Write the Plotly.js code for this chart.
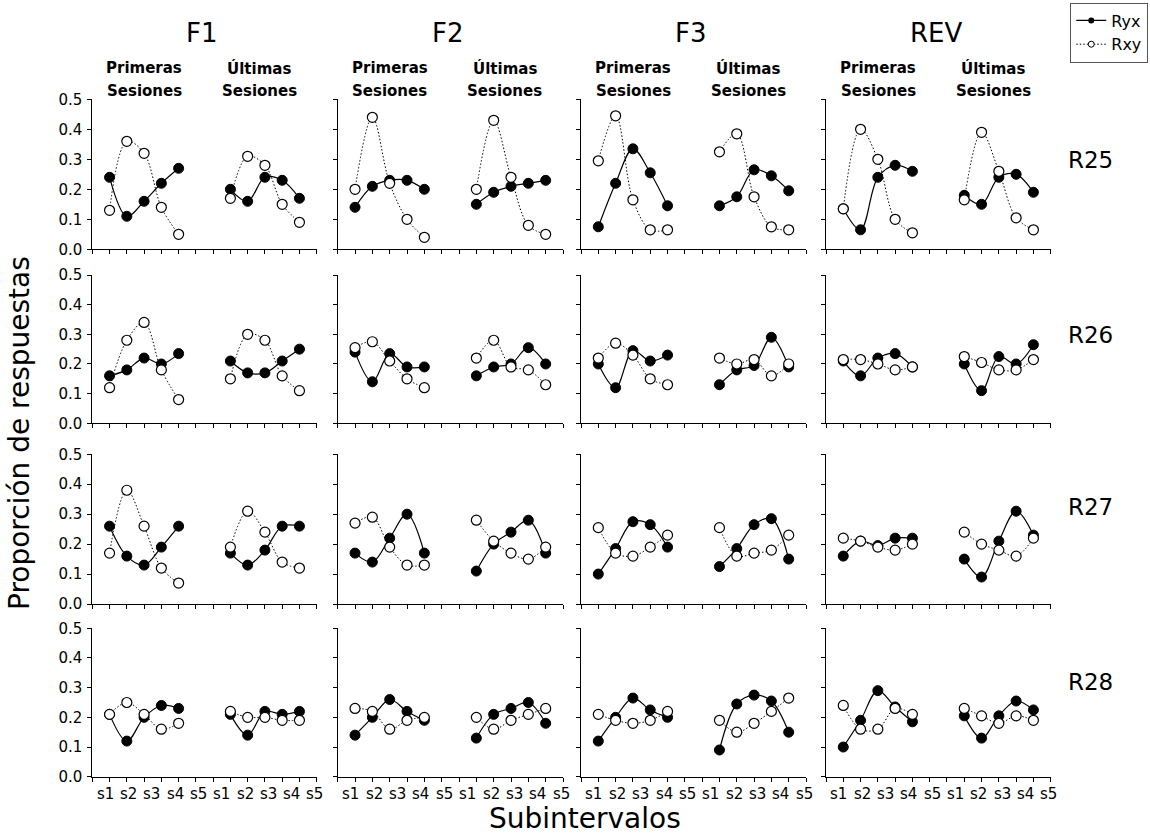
<!DOCTYPE html>
<html>
<head>
<meta charset="utf-8">
<script src="https://cdn.plot.ly/plotly-3.0.1.min.js"></script>
<style>html,body{margin:0;padding:0;background:#fff}#chart{width:1150px;height:835px}</style>
</head>
<body>
<div id="chart"></div>
<script>
// ---- data ----
const panelTitles = ['F1', 'F2', 'F3', 'REV'];
const rowLabels = ['R25', 'R26', 'R27', 'R28'];
const subLabels = ['s1', 's2', 's3', 's4', 's5'];
const firstX = [1, 2, 3, 4, 5];      // Primeras Sesiones
const lastX = [8, 9, 10, 11, 12];    // Últimas Sesiones
const seriesNames = ['Ryx', 'Rxy'];

// each panel: 5 values (Primeras) followed by 5 values (Últimas)
const ryxR25 = [
  [0.24, 0.11, 0.16, 0.22, 0.27, 0.20, 0.16, 0.24, 0.23, 0.17],
  [0.14, 0.21, 0.23, 0.23, 0.20, 0.15, 0.19, 0.21, 0.22, 0.23],
  [0.075, 0.22, 0.335, 0.255, 0.145, 0.145, 0.175, 0.265, 0.245, 0.195],
  [0.135, 0.065, 0.24, 0.28, 0.26, 0.18, 0.15, 0.24, 0.25, 0.19]
];
const rxyR25 = [
  [0.13, 0.36, 0.32, 0.14, 0.05, 0.17, 0.31, 0.28, 0.15, 0.09],
  [0.20, 0.44, 0.22, 0.10, 0.04, 0.20, 0.43, 0.24, 0.08, 0.05],
  [0.295, 0.445, 0.165, 0.065, 0.065, 0.325, 0.385, 0.175, 0.075, 0.065],
  [0.135, 0.40, 0.30, 0.10, 0.055, 0.165, 0.39, 0.26, 0.105, 0.065]
];
const ryxR26 = [
  [0.16, 0.18, 0.22, 0.20, 0.235, 0.21, 0.17, 0.17, 0.21, 0.25],
  [0.24, 0.14, 0.235, 0.19, 0.19, 0.16, 0.19, 0.20, 0.255, 0.20],
  [0.20, 0.12, 0.245, 0.21, 0.23, 0.13, 0.18, 0.195, 0.29, 0.19],
  [0.21, 0.16, 0.22, 0.235, 0.19, 0.20, 0.11, 0.225, 0.20, 0.265]
];
const rxyR26 = [
  [0.12, 0.28, 0.34, 0.18, 0.08, 0.15, 0.30, 0.28, 0.16, 0.11],
  [0.255, 0.275, 0.21, 0.15, 0.12, 0.22, 0.28, 0.19, 0.18, 0.13],
  [0.22, 0.27, 0.23, 0.15, 0.13, 0.22, 0.20, 0.215, 0.16, 0.20],
  [0.215, 0.215, 0.20, 0.18, 0.19, 0.225, 0.205, 0.18, 0.18, 0.215]
];
const ryxR27 = [
  [0.26, 0.16, 0.13, 0.19, 0.26, 0.17, 0.13, 0.18, 0.26, 0.26],
  [0.17, 0.14, 0.22, 0.30, 0.17, 0.11, 0.20, 0.24, 0.28, 0.17],
  [0.10, 0.185, 0.275, 0.265, 0.19, 0.125, 0.185, 0.265, 0.285, 0.15],
  [0.16, 0.21, 0.195, 0.22, 0.22, 0.15, 0.09, 0.21, 0.31, 0.23]
];
const rxyR27 = [
  [0.17, 0.38, 0.26, 0.12, 0.07, 0.19, 0.31, 0.24, 0.14, 0.12],
  [0.27, 0.29, 0.19, 0.13, 0.13, 0.28, 0.21, 0.17, 0.15, 0.19],
  [0.255, 0.17, 0.16, 0.19, 0.23, 0.255, 0.16, 0.17, 0.18, 0.23],
  [0.22, 0.21, 0.19, 0.18, 0.20, 0.24, 0.20, 0.18, 0.16, 0.22]
];
const ryxR28 = [
  [0.21, 0.12, 0.20, 0.24, 0.23, 0.21, 0.14, 0.22, 0.21, 0.22],
  [0.14, 0.20, 0.26, 0.22, 0.19, 0.13, 0.21, 0.23, 0.25, 0.18],
  [0.12, 0.20, 0.265, 0.225, 0.20, 0.09, 0.245, 0.275, 0.255, 0.15],
  [0.10, 0.19, 0.29, 0.235, 0.185, 0.205, 0.13, 0.205, 0.255, 0.225]
];
const rxyR28 = [
  [0.21, 0.25, 0.21, 0.16, 0.18, 0.22, 0.20, 0.20, 0.19, 0.19],
  [0.23, 0.22, 0.16, 0.19, 0.20, 0.20, 0.16, 0.19, 0.21, 0.23],
  [0.21, 0.19, 0.18, 0.19, 0.22, 0.19, 0.15, 0.18, 0.22, 0.265],
  [0.24, 0.16, 0.16, 0.23, 0.21, 0.23, 0.205, 0.18, 0.205, 0.19]
];
const ryxRows = [ryxR25, ryxR26, ryxR27, ryxR28];
const rxyRows = [rxyR25, rxyR26, rxyR27, rxyR28];

// ---- layout geometry (pixels) ----
const W = 1150, H = 835;
const colPx = [[92.3, 316.7], [337.7, 563], [581, 806], [826, 1050.7]];
const rowPx = [[99.3, 249.3], [275, 423.3], [454.3, 604], [628.3, 776.7]];
const rowLabelY = [160, 335, 507, 682];
const FONT = "'DejaVu Sans', sans-serif";
const px = v => v / W;
const py = v => 1 - v / H;

function splitY(vals) {
  return vals.slice(0, 5).concat([null], vals.slice(5));
}
const xAll = firstX.concat([6], lastX);

const ryxLine = {color: '#000', width: 1.2, shape: 'spline', smoothing: 1};
const rxyLine = {color: '#000', width: 1, dash: '1.5px,2px', shape: 'spline', smoothing: 1};

const traces = [];
const layout = {
  width: W, height: H,
  margin: {l: 0, r: 0, t: 0, b: 0},
  paper_bgcolor: '#fff', plot_bgcolor: '#fff',
  showlegend: true,
  legend: {
    x: 0.9985, xanchor: 'right', y: 0.997, yanchor: 'top',
    bordercolor: '#555', borderwidth: 1, bgcolor: '#fff',
    font: {family: FONT, size: 16, color: '#000'},
    itemwidth: 30, tracegroupgap: 0
  },
  annotations: [],
  font: {family: FONT, color: '#000'}
};

for (let r = 0; r < 4; r++) {
  for (let c = 0; c < 4; c++) {
    const k = r * 4 + c + 1;
    const xa = k === 1 ? 'x' : 'x' + k;
    const ya = k === 1 ? 'y' : 'y' + k;
    const xKey = k === 1 ? 'xaxis' : 'xaxis' + k;
    const yKey = k === 1 ? 'yaxis' : 'yaxis' + k;
    layout[xKey] = {
      domain: [px(colPx[c][0]), px(colPx[c][1])],
      anchor: ya, range: [0, 13], tick0: 0, dtick: 1, tickmode: 'linear',
      showline: true, linecolor: '#000', linewidth: 1,
      ticks: 'outside', ticklen: 4, tickcolor: '#000', tickwidth: 1,
      showgrid: false, zeroline: false, showticklabels: false, fixedrange: true
    };
    layout[yKey] = {
      domain: [py(rowPx[r][1]), py(rowPx[r][0])],
      anchor: xa, range: [0, 0.5], tick0: 0, dtick: 0.1, tickmode: 'linear',
      showline: true, linecolor: '#000', linewidth: 1,
      ticks: 'outside', ticklen: 4, tickcolor: '#000', tickwidth: 1,
      showgrid: false, zeroline: false, tickformat: '.1f',
      showticklabels: c === 0, ticklabelstandoff: 2,
      tickfont: {family: FONT, size: 15, color: '#000'}, fixedrange: true
    };
    traces.push({
      type: 'scatter', mode: 'lines+markers', name: seriesNames[0],
      x: xAll, y: splitY(ryxRows[r][c]), xaxis: xa, yaxis: ya,
      connectgaps: false, cliponaxis: false, line: ryxLine,
      marker: {symbol: 'circle', size: 10, color: '#000', line: {color: '#000', width: 1}},
      showlegend: false
    });
  }
}
for (let r = 0; r < 4; r++) {
  for (let c = 0; c < 4; c++) {
    const k = r * 4 + c + 1;
    const xa = k === 1 ? 'x' : 'x' + k;
    const ya = k === 1 ? 'y' : 'y' + k;
    traces.push({
      type: 'scatter', mode: 'lines+markers', name: seriesNames[1],
      x: xAll, y: splitY(rxyRows[r][c]), xaxis: xa, yaxis: ya,
      connectgaps: false, cliponaxis: false, line: rxyLine,
      marker: {symbol: 'circle', size: 10, color: '#fff', line: {color: '#000', width: 1.2}},
      showlegend: false
    });
  }
}
// legend-only entries (no data), with smaller symbols as in the original key
traces.push({type: 'scatter', mode: 'lines+markers', name: seriesNames[0], x: [null], y: [null],
  line: {color: '#000', width: 1.2}, marker: {symbol: 'circle', size: 6, color: '#000'}, showlegend: true});
traces.push({type: 'scatter', mode: 'lines+markers', name: seriesNames[1], x: [null], y: [null],
  line: {color: '#000', width: 1, dash: '1.5px,2px'},
  marker: {symbol: 'circle', size: 6, color: '#fff', line: {color: '#000', width: 1}}, showlegend: true});

const ann = layout.annotations;
// column titles and sub-headers
for (let c = 0; c < 4; c++) {
  const x0 = colPx[c][0];
  ann.push({text: panelTitles[c], xref: 'paper', yref: 'paper', x: px(x0 + 110), y: py(33),
    xanchor: 'center', yanchor: 'middle', showarrow: false, font: {family: FONT, size: 26, color: '#000'}});
  const hdr = [['Primeras', 'Sesiones', 52], ['Últimas', 'Sesiones', 167]];
  hdr.forEach(h => {
    ann.push({text: '<b>' + h[0] + '</b>', xref: 'paper', yref: 'paper', x: px(x0 + h[2]), y: py(68),
      xanchor: 'center', yanchor: 'middle', showarrow: false, font: {family: FONT, size: 15, color: '#000'}});
    ann.push({text: '<b>' + h[1] + '</b>', xref: 'paper', yref: 'paper', x: px(x0 + h[2]), y: py(91),
      xanchor: 'center', yanchor: 'middle', showarrow: false, font: {family: FONT, size: 15, color: '#000'}});
  });
}
// row labels
for (let r = 0; r < 4; r++) {
  ann.push({text: rowLabels[r], xref: 'paper', yref: 'paper', x: px(1090), y: py(rowLabelY[r]),
    xanchor: 'center', yanchor: 'middle', showarrow: false, font: {family: FONT, size: 23, color: '#000'}});
}
// bottom tick labels (s1..s5 twice), spread over each bottom panel
for (let c = 0; c < 4; c++) {
  const k = 12 + c + 1;
  for (let i = 0; i < 10; i++) {
    ann.push({text: subLabels[i % 5], xref: 'x' + k, yref: 'paper', x: 0.75 + i * 1.35, y: py(794),
      xanchor: 'center', yanchor: 'middle', showarrow: false, font: {family: FONT, size: 15, color: '#000'}});
  }
}
// axis titles
ann.push({text: 'Proporción de respuestas', xref: 'paper', yref: 'paper', x: px(19), y: py(433),
  textangle: -90, xanchor: 'center', yanchor: 'middle', showarrow: false, font: {family: FONT, size: 28, color: '#000'}});
ann.push({text: 'Subintervalos', xref: 'paper', yref: 'paper', x: px(585), y: py(818),
  xanchor: 'center', yanchor: 'middle', showarrow: false, font: {family: FONT, size: 28, color: '#000'}});

Plotly.newPlot('chart', traces, layout, {staticPlot: true, displayModeBar: false});
</script>
</body>
</html>
